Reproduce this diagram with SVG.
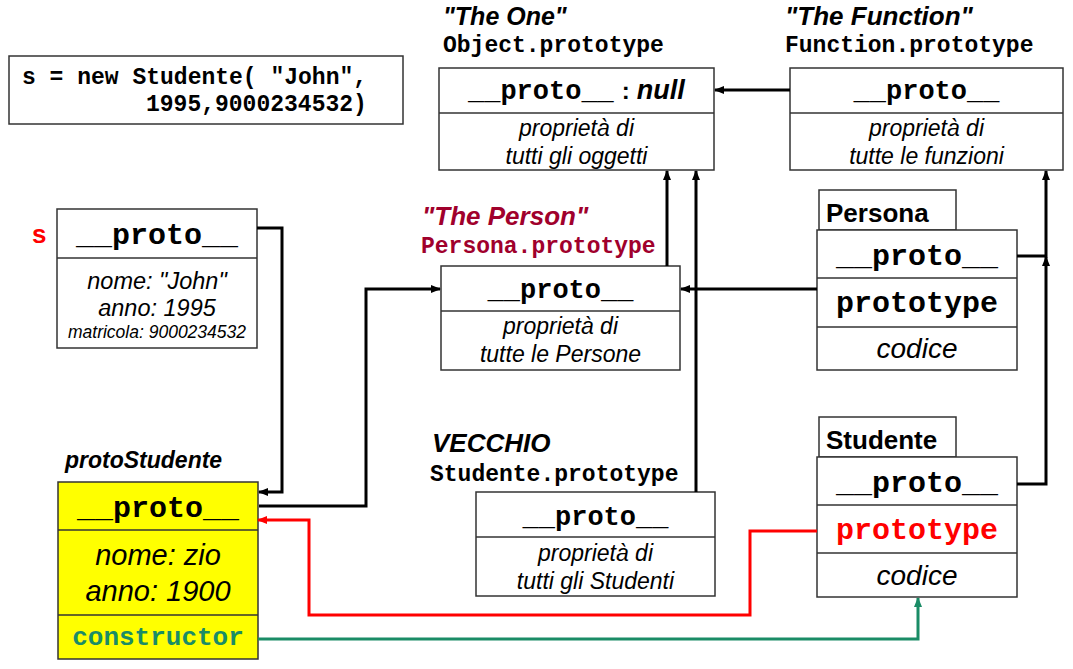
<svg xmlns="http://www.w3.org/2000/svg" width="1073" height="669" viewBox="0 0 1073 669">
<style>
.box{fill:#fff;stroke:#333;stroke-width:1.5}
.yel{fill:#ffff00;stroke:#333;stroke-width:1.5}
.div{stroke:#333;stroke-width:1.5}
.mono{font-family:"Liberation Mono","Courier New",monospace;font-weight:bold}
.sans{font-family:"Liberation Sans",Arial,sans-serif}
.it{font-style:italic}
.bi{font-style:italic;font-weight:bold}
.b{font-weight:bold}
.mid{text-anchor:middle}
.conn{fill:none;stroke:#000;stroke-width:3}
.red{fill:none;stroke:#ff0000;stroke-width:3}
.teal{fill:none;stroke:#1a8c66;stroke-width:3}
</style>
<defs>
<marker id="ab" viewBox="0 0 10 8" refX="9" refY="4" markerWidth="10" markerHeight="8" markerUnits="userSpaceOnUse" orient="auto"><path d="M0,0 L10,4 L0,8 z" fill="#000"/></marker>
<marker id="ar" viewBox="0 0 10 8" refX="9" refY="4" markerWidth="10" markerHeight="8" markerUnits="userSpaceOnUse" orient="auto"><path d="M0,0 L10,4 L0,8 z" fill="#ff0000"/></marker>
<marker id="at" viewBox="0 0 10 8" refX="9" refY="4" markerWidth="10" markerHeight="8" markerUnits="userSpaceOnUse" orient="auto"><path d="M0,0 L10,4 L0,8 z" fill="#1a8c66"/></marker>
</defs>
<rect width="1073" height="669" fill="#fff"/>

<g id="code">
<rect class="box" x="9" y="56" width="394" height="68"/>
<text class="mono" x="22" y="84" font-size="23">s = new Studente( "John",</text>
<text class="mono" x="146" y="111" font-size="23">1995,9000234532)</text>
</g>

<g id="objectPrototype">
<text class="sans bi" x="443" y="25" font-size="25">"The One"</text>
<text class="mono" x="443" y="52" font-size="23">Object.prototype</text>
<rect class="box" x="439" y="68" width="275" height="102"/>
<line class="div" x1="439" y1="113" x2="714" y2="113"/>
<text x="468" y="99"><tspan class="mono" font-size="27">__proto__</tspan><tspan class="sans b" font-size="24" dx="8">:</tspan><tspan class="sans bi" font-size="27" dx="7">null</tspan></text>
<text class="sans it mid" x="576.5" y="136" font-size="23">proprietà di</text>
<text class="sans it mid" x="576.5" y="164" font-size="23">tutti gli oggetti</text>
</g>

<g id="functionPrototype">
<text class="sans bi" x="785" y="25" font-size="26">"The Function"</text>
<text class="mono" x="785" y="52" font-size="23">Function.prototype</text>
<rect class="box" x="790" y="68" width="273" height="102"/>
<line class="div" x1="790" y1="113" x2="1063" y2="113"/>
<text class="mono mid" x="926.5" y="99" font-size="27">__proto__</text>
<text class="sans it mid" x="926.5" y="136" font-size="23">proprietà di</text>
<text class="sans it mid" x="926.5" y="164" font-size="23">tutte le funzioni</text>
</g>

<g id="s">
<text class="sans b" x="32" y="243" font-size="26" fill="#ff0000">s</text>
<rect class="box" x="57" y="209" width="200" height="139"/>
<line class="div" x1="57" y1="258" x2="257" y2="258"/>
<text class="mono mid" x="157" y="244" font-size="30">__proto__</text>
<text class="sans it mid" x="157" y="289" font-size="23.5">nome: "John"</text>
<text class="sans it mid" x="157" y="316" font-size="23.5">anno: 1995</text>
<text class="sans it mid" x="157" y="338" font-size="17.5">matricola: 9000234532</text>
</g>

<g id="personaPrototype">
<text class="sans bi" x="422" y="225" font-size="26" fill="#a0002c">"The Person"</text>
<text class="mono" x="421" y="253" font-size="23" fill="#a0002c">Persona.prototype</text>
<rect class="box" x="441" y="266" width="239" height="104"/>
<line class="div" x1="441" y1="311" x2="680" y2="311"/>
<text class="mono mid" x="560.5" y="298" font-size="27">__proto__</text>
<text class="sans it mid" x="560.5" y="334" font-size="23">proprietà di</text>
<text class="sans it mid" x="560.5" y="362" font-size="23">tutte le Persone</text>
</g>

<g id="persona">
<rect class="box" x="819" y="190" width="137" height="40"/>
<text class="sans b" x="826" y="222" font-size="26">Persona</text>
<rect class="box" x="817" y="230" width="200" height="140"/>
<line class="div" x1="817" y1="278" x2="1017" y2="278"/>
<line class="div" x1="817" y1="327" x2="1017" y2="327"/>
<text class="mono mid" x="917" y="265" font-size="30">__proto__</text>
<text class="mono mid" x="917" y="312" font-size="30">prototype</text>
<text class="sans it mid" x="917" y="358" font-size="28">codice</text>
</g>

<g id="protoStudente">
<text class="sans bi" x="65" y="468" font-size="23">protoStudente</text>
<rect class="yel" x="58" y="482" width="200" height="177"/>
<line class="div" x1="58" y1="530" x2="258" y2="530"/>
<line class="div" x1="58" y1="615" x2="258" y2="615"/>
<text class="mono mid" x="158" y="517" font-size="30">__proto__</text>
<text class="sans it mid" x="158" y="565" font-size="29">nome: zio</text>
<text class="sans it mid" x="158" y="601" font-size="29">anno: 1900</text>
<text class="mono mid" x="158" y="645" font-size="26" fill="#1a8c66">constructor</text>
</g>

<g id="studentePrototypeVecchio">
<text class="sans bi" x="432" y="452" font-size="26">VECCHIO</text>
<text class="mono" x="430" y="481" font-size="23">Studente.prototype</text>
<rect class="box" x="476" y="492" width="239" height="104"/>
<line class="div" x1="476" y1="537" x2="715" y2="537"/>
<text class="mono mid" x="595.5" y="525" font-size="27">__proto__</text>
<text class="sans it mid" x="595.5" y="561" font-size="23">proprietà di</text>
<text class="sans it mid" x="595.5" y="589" font-size="23">tutti gli Studenti</text>
</g>

<g id="studente">
<rect class="box" x="819" y="417" width="137" height="40"/>
<text class="sans b" x="826" y="449" font-size="26">Studente</text>
<rect class="box" x="817" y="457" width="200" height="140"/>
<line class="div" x1="817" y1="505" x2="1017" y2="505"/>
<line class="div" x1="817" y1="553" x2="1017" y2="553"/>
<text class="mono mid" x="917" y="492" font-size="30">__proto__</text>
<text class="mono mid" x="917" y="539" font-size="30" fill="#ff0000">prototype</text>
<text class="sans it mid" x="917" y="585" font-size="28">codice</text>
</g>

<g id="connectors">
<path class="conn" d="M257,228 H282 V492 H259" marker-end="url(#ab)"/>
<path class="conn" d="M259,506 H366 V289 H440" marker-end="url(#ab)"/>
<path class="conn" d="M817,289 H681" marker-end="url(#ab)"/>
<path class="conn" d="M667,266 V171" marker-end="url(#ab)"/>
<path class="conn" d="M696,492 V171" marker-end="url(#ab)"/>
<path class="conn" d="M790,90 H715" marker-end="url(#ab)"/>
<path class="conn" d="M1017,256 H1046 V171" marker-end="url(#ab)"/>
<path class="conn" d="M1017,484 H1046 V257" marker-end="url(#ab)"/>
<path class="red" d="M817,531 H750 V615 H309 V520 H258" marker-end="url(#ar)"/>
<path class="teal" d="M258,639 H918 V598" marker-end="url(#at)"/>
</g>
</svg>
